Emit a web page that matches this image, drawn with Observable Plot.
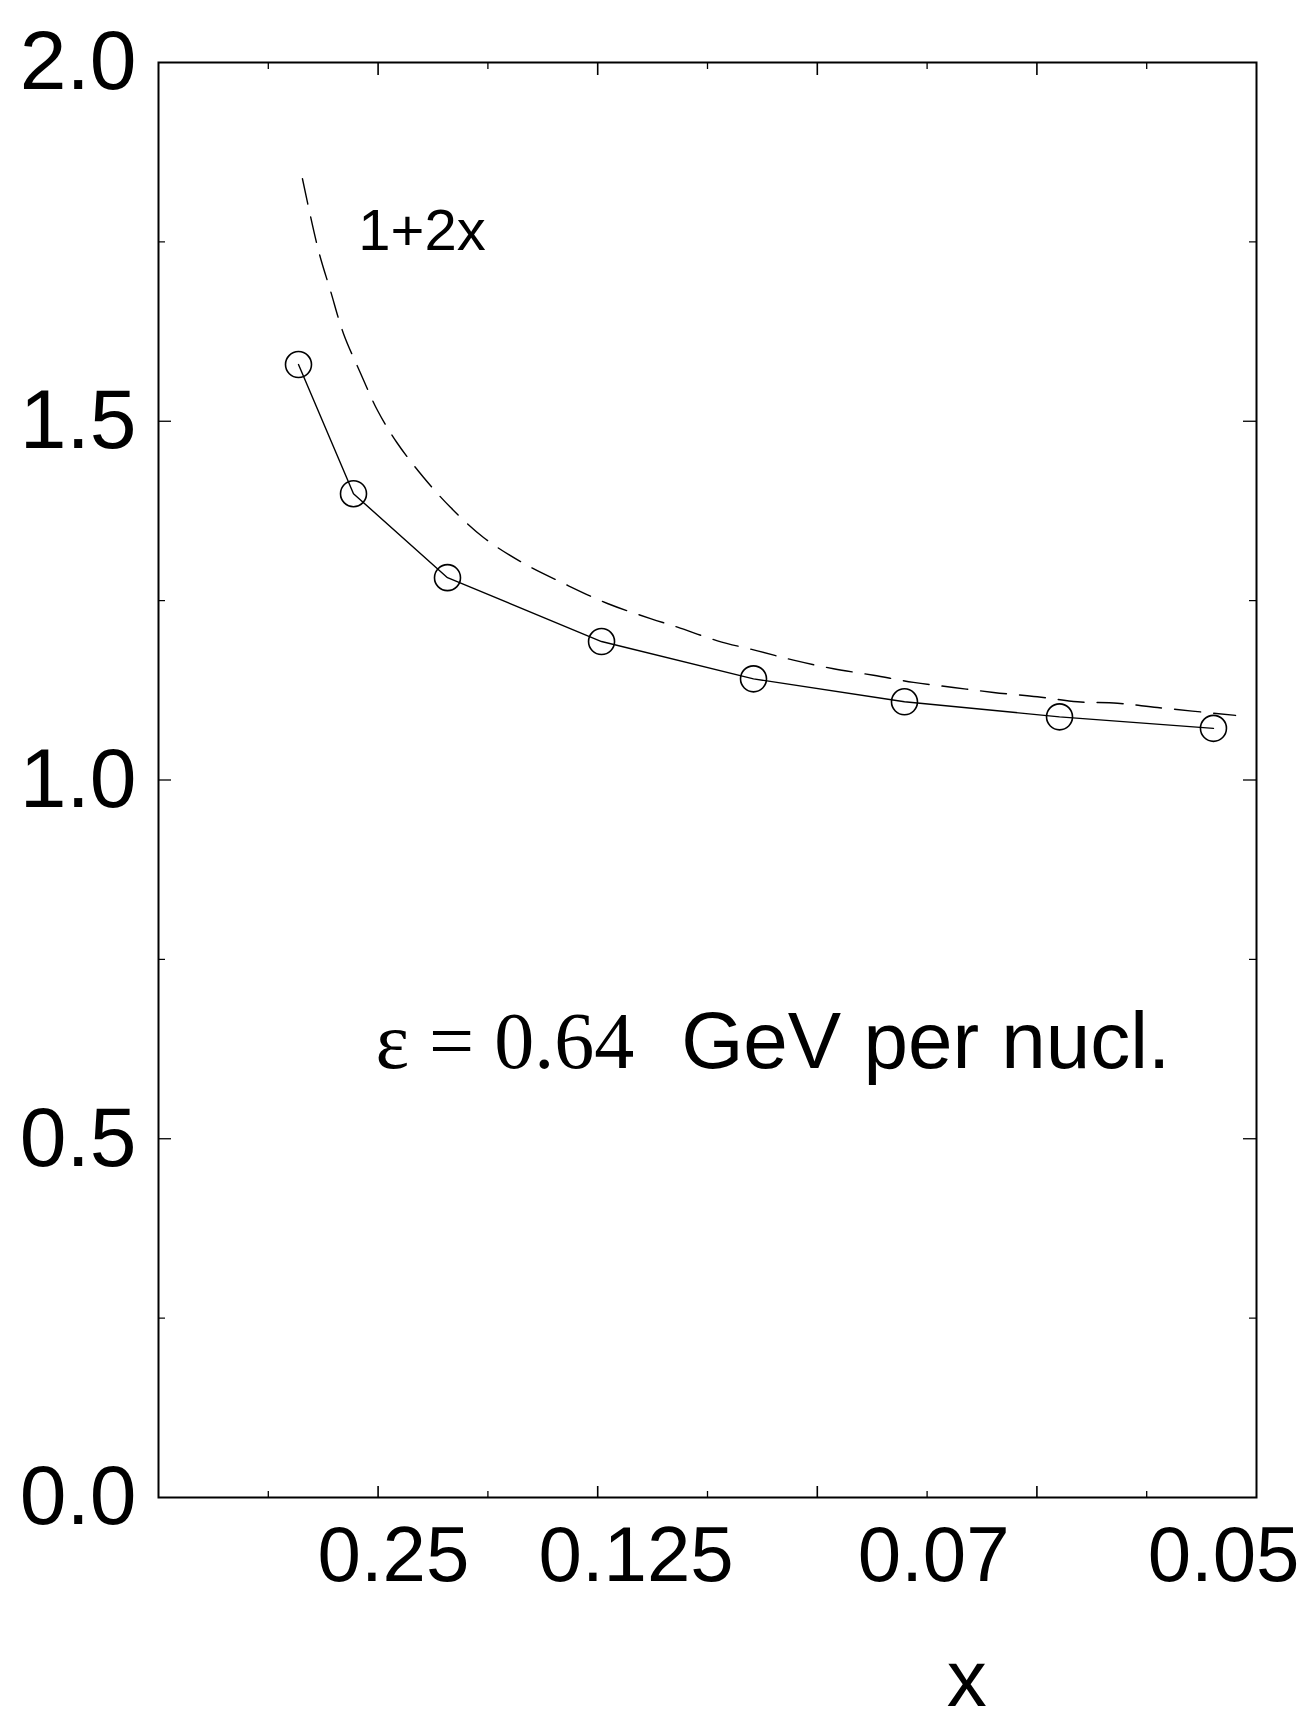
<!DOCTYPE html>
<html><head><meta charset="utf-8">
<script src="https://cdn.jsdelivr.net/npm/d3@7"></script>
<script src="https://cdn.jsdelivr.net/npm/@observablehq/plot@0.6"></script>
<style>body{margin:0;background:#fff}</style>
</head><body><div id="chart"></div>
<script>
// model points (circles + solid line); x is the position along the axis (0..10), y the ratio
const pointU = [1.275, 1.776, 2.632, 4.035, 5.419, 6.794, 8.206, 9.608];
const pointY = [1.579, 1.399, 1.282, 1.193, 1.141, 1.109, 1.088, 1.072];
// dashed curve 1+2x
const dashU = [1.311, 1.457, 1.566, 1.685, 1.840, 1.995, 2.177, 2.413, 2.659, 2.960, 3.324, 3.689, 4.089, 4.481, 4.727, 5.091, 5.455, 5.783, 6.148, 6.512, 6.876, 7.240, 7.605, 8.005, 8.370, 8.734, 9.098, 9.809];
const dashY = [1.838, 1.738, 1.682, 1.622, 1.567, 1.515, 1.469, 1.422, 1.380, 1.338, 1.302, 1.274, 1.246, 1.225, 1.213, 1.194, 1.180, 1.167, 1.155, 1.146, 1.136, 1.129, 1.122, 1.116, 1.109, 1.107, 1.101, 1.090];
// axis labels
const xTickLabels = ["0.25", "0.125", "0.07", "0.05"];
const xTickLabelPos = [2.14, 4.35, 7.06, 9.70];
const xMajorTicks = [2, 4, 6, 8];
const xMinorTicks = [1, 3, 5, 7, 9];
const yTickValues = [0, 0.5, 1.0, 1.5, 2.0];
const yMajorTicks = [0.5, 1.0, 1.5];
const yMinorTicks = [0.25, 0.75, 1.25, 1.75];

const points = pointU.map((u, i) => ({u, y: pointY[i]}));
const dashed = dashU.map((u, i) => ({u, y: dashY[i]}));

const W = 1313, H = 1725, mL = 158, mR = 57, mT = 62, mB = 228;
const iW = W - mL - mR, iH = H - mT - mB;
const sans = "'Liberation Sans', Arial, Helvetica, sans-serif";
const serif = "'Liberation Serif', 'Times New Roman', serif";

const chart = Plot.plot({
  width: W, height: H,
  marginLeft: mL, marginRight: mR, marginTop: mT, marginBottom: mB,
  style: {background: "#fff", color: "#000", fontFamily: sans},
  x: {domain: [0, 10]},
  y: {domain: [0, 2]},
  marks: [
    Plot.frame({stroke: "#000", strokeWidth: 2}),
    // inward ticks
    Plot.ruleX(xMajorTicks, {x: d => d, insetTop: iH - 11, stroke: "#000", strokeWidth: 1.6}),
    Plot.ruleX(xMinorTicks, {x: d => d, insetTop: iH - 6, stroke: "#000", strokeWidth: 1.3}),
    Plot.ruleX(xMajorTicks, {x: d => d, insetBottom: iH - 13, stroke: "#000", strokeWidth: 1.6}),
    Plot.ruleX(xMinorTicks, {x: d => d, insetBottom: iH - 7, stroke: "#000", strokeWidth: 1.3}),
    Plot.ruleY(yMajorTicks, {y: d => d, insetRight: iW - 13, stroke: "#000", strokeWidth: 1.3}),
    Plot.ruleY(yMinorTicks, {y: d => d, insetRight: iW - 7, stroke: "#000", strokeWidth: 1.2}),
    Plot.ruleY(yMajorTicks, {y: d => d, insetLeft: iW - 13, stroke: "#000", strokeWidth: 1.3}),
    Plot.ruleY(yMinorTicks, {y: d => d, insetLeft: iW - 7, stroke: "#000", strokeWidth: 1.2}),
    Plot.axisY({ticks: yTickValues, tickSize: 0, tickPadding: 22, tickFormat: d3.format(".1f"), fontSize: 84, label: null}),
    Plot.axisX({ticks: xTickLabelPos, tickSize: 0, tickPadding: 28, tickFormat: (d, i) => xTickLabels[i], fontSize: 78, label: null}),
    // curves
    Plot.line(dashed, {x: "u", y: "y", stroke: "#000", strokeWidth: 1.4, strokeDasharray: "26,13", curve: "catmull-rom"}),
    Plot.line(points, {x: "u", y: "y", stroke: "#000", strokeWidth: 1.4}),
    Plot.dot(points, {x: "u", y: "y", r: 13, stroke: "#000", strokeWidth: 1.6, fill: "none"}),
    // annotations
    Plot.text(["1+2x"], {x: 1.82, y: 1.738, text: d => d, textAnchor: "start", lineAnchor: "bottom", fontSize: 58, fill: "#000"}),
    Plot.text(["ε = 0.64"], {x: 1.976, y: 0.598, text: d => d, textAnchor: "start", lineAnchor: "bottom", fontSize: 80, fontFamily: serif, fill: "#000"}),
    Plot.text(["GeV per nucl."], {x: 4.76, y: 0.598, text: d => d, textAnchor: "start", lineAnchor: "bottom", fontSize: 80, fill: "#000"}),
    Plot.text(["x"], {x: 7.36, y: -0.255, text: d => d, textAnchor: "middle", lineAnchor: "middle", fontSize: 80, fill: "#000"})
  ]
});
document.getElementById("chart").appendChild(chart);
</script>
</body></html>
